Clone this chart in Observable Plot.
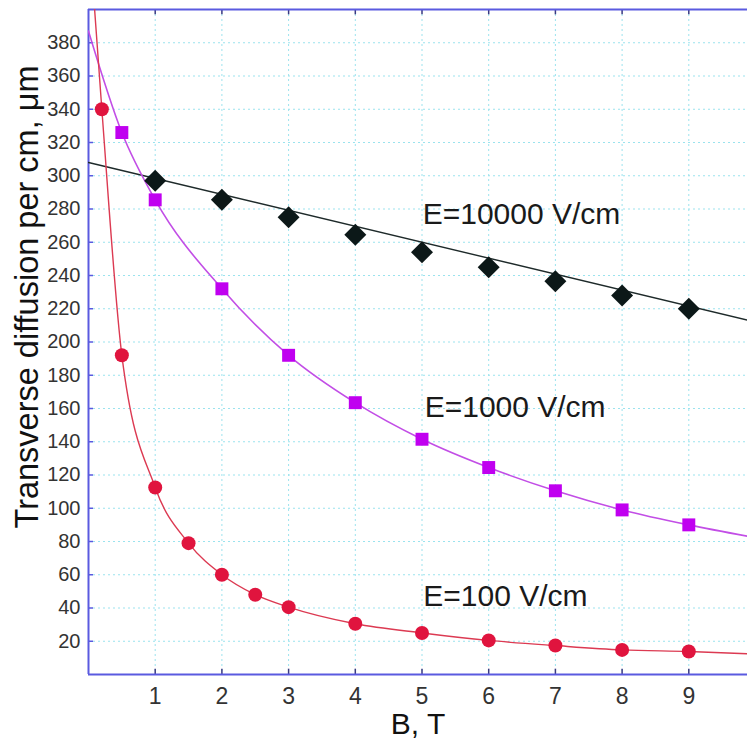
<!DOCTYPE html>
<html>
<head>
<meta charset="utf-8">
<script src="https://cdn.jsdelivr.net/npm/d3@7"></script>
<script src="https://cdn.jsdelivr.net/npm/@observablehq/plot@0.6"></script>
<style>
  html, body { margin: 0; padding: 0; background: #fff; }
  svg { display: block; }
</style>
</head>
<body>
<div id="chart"></div>
<script>
// ---- data ----
const xTicks = [1, 2, 3, 4, 5, 6, 7, 8, 9];
const yTicks = [20, 40, 60, 80, 100, 120, 140, 160, 180, 200, 220, 240, 260, 280, 300, 320, 340, 360, 380];

// measured points
const bHigh = [1, 2, 3, 4, 5, 6, 7, 8, 9];
const dHigh = [297, 285.5, 275, 264.5, 254, 245, 236.5, 228, 220];          // E=10000 V/cm
const bMid = [0.5, 1, 2, 3, 4, 5, 6, 7, 8, 9];
const dMid = [326, 285.5, 232, 192, 163.5, 141.5, 124.5, 110.5, 99, 90];     // E=1000 V/cm
const bLow = [0.2, 0.5, 1, 1.5, 2, 2.5, 3, 4, 5, 6, 7, 8, 9];
const dLow = [340, 192, 112.5, 79, 60, 48, 40.5, 30.5, 25, 20.5, 17.4, 14.8, 13.8]; // E=100 V/cm

// fitted curves
const fitHighB = [0, 9.9];
const fitHighD = [308, 213];
const fitMidB = [0, 0.5, 1, 2, 3, 4, 5, 6, 7, 8, 9, 9.9];
const fitMidD = [387, 326, 285.5, 232, 192, 163.5, 141.5, 124.5, 110.5, 99, 90, 83];
const fitLowB = [0.07, 0.2, 0.5, 1, 1.5, 2, 2.5, 3, 4, 5, 6, 7, 8, 9, 9.9];
const fitLowD = [412, 340, 192, 112.5, 79, 60, 48, 40.5, 30.5, 25, 20.5, 17.4, 14.8, 13.8, 12.4];

// series labels
const labelText = ["E=10000 V/cm", "E=1000 V/cm", "E=100 V/cm"];
const labelB = [5.01, 5.04, 5.02];
const labelD = [271, 155, 41];

const xDomain = [0, 9.88];
const yDomain = [0, 400];
const xTitle = "B, T";
const yTitle = "Transverse diffusion per cm, \u03bcm";

// ---- build tables ----
const zip = (xs, ys) => xs.map((x, i) => ({x, y: ys[i]}));
const ptsHigh = zip(bHigh, dHigh), ptsMid = zip(bMid, dMid), ptsLow = zip(bLow, dLow);
const lnHigh = zip(fitHighB, fitHighD), lnMid = zip(fitMidB, fitMidD), lnLow = zip(fitLowB, fitLowD);
const labels = labelText.map((t, i) => ({t, x: labelB[i], y: labelD[i]}));

const frameColor = "#5a5ae0";
const tickColor = "#3a3a80";
const gridColor = "#9be3ee";
const font = "'Liberation Sans', Arial, Helvetica, sans-serif";

const chart = Plot.plot({
  width: 747,
  height: 743,
  marginLeft: 88,
  marginRight: 0,
  marginTop: 9,
  marginBottom: 69,
  style: {fontFamily: font, background: "#fff", overflow: "visible"},
  x: {domain: xDomain},
  y: {domain: yDomain},
  marks: [
    // grid
    Plot.gridX(xTicks, {stroke: gridColor, strokeOpacity: 1, strokeWidth: 1, strokeDasharray: "2,3"}),
    Plot.gridY(yTicks, {stroke: gridColor, strokeOpacity: 1, strokeWidth: 1, strokeDasharray: "2,3"}),
    // tick labels
    Plot.axisX(xTicks, {tickSize: 0, tickPadding: 13, fontSize: 23, fill: "#333", label: null}),
    Plot.axisY(yTicks, {tickSize: 0, tickPadding: 8, fontSize: 20, fill: "#333", label: null}),
    // inward ticks
    Plot.ruleX(xTicks, {x: d => d, y1: 0, y2: 3.2, stroke: tickColor, strokeWidth: 1.5}),
    Plot.ruleX(xTicks, {x: d => d, y1: 396.8, y2: 400, stroke: tickColor, strokeWidth: 1.5}),
    Plot.ruleY(yTicks, {y: d => d, x1: 0, x2: 0.075, stroke: frameColor, strokeWidth: 1.5}),
    // frame
    Plot.ruleY([yDomain[0], yDomain[1]], {stroke: frameColor, strokeWidth: 2}),
    Plot.ruleX([xDomain[0]], {stroke: frameColor, strokeWidth: 2}),
    // fitted curves
    Plot.line(lnHigh, {x: "x", y: "y", stroke: "#1e2a2a", strokeWidth: 1.4, clip: true}),
    Plot.line(lnMid, {x: "x", y: "y", stroke: "#c24ee6", strokeWidth: 1.6, curve: "monotone-x", clip: true}),
    Plot.line(lnLow, {x: "x", y: "y", stroke: "#dc3a52", strokeWidth: 1.4, curve: "monotone-x", clip: true}),
    // points
    Plot.dot(ptsHigh, {x: "x", y: "y", symbol: "diamond2", r: 9.9, fill: "#0c1818", stroke: "none"}),
    Plot.dot(ptsMid, {x: "x", y: "y", symbol: "square", r: 7.3, fill: "#c000f0", stroke: "none"}),
    Plot.dot(ptsLow, {x: "x", y: "y", symbol: "circle", r: 7, fill: "#e0143e", stroke: "none"}),
    // series labels
    Plot.text(labels, {x: "x", y: "y", text: "t", textAnchor: "start", lineAnchor: "bottom", fontSize: 30, fill: "#1a1a1a"}),
    // axis titles
    Plot.text([xTitle], {frameAnchor: "bottom", lineAnchor: "bottom", dy: 59, fontSize: 30, fill: "#111"}),
    Plot.text([yTitle], {frameAnchor: "left", rotate: -90, textAnchor: "middle", lineAnchor: "middle", dx: -61, dy: -45, fontSize: 32.5, fill: "#111"})
  ]
});

document.getElementById("chart").appendChild(chart);
</script>
</body>
</html>
